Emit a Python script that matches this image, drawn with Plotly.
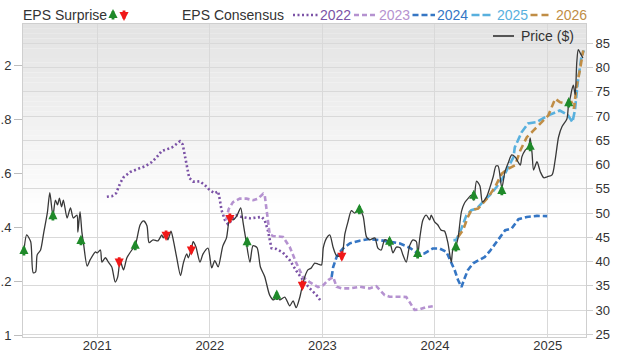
import plotly.graph_objects as go

# ---------------- data ----------------
price_dates = [
    "2020-05-08", "2020-05-17", "2020-05-30", "2020-06-07", "2020-06-15", "2020-06-20",
    "2020-07-01", "2020-07-11", "2020-07-23", "2020-07-31", "2020-08-10", "2020-08-18",
    "2020-08-25", "2020-08-31", "2020-09-07", "2020-09-13", "2020-09-25", "2020-10-06",
    "2020-10-15", "2020-10-27", "2020-10-30", "2020-11-06", "2020-11-12", "2020-11-17",
    "2020-11-29", "2020-12-09", "2020-12-26", "2021-01-01", "2021-01-11", "2021-01-16",
    "2021-01-27", "2021-02-06", "2021-02-17", "2021-02-28", "2021-03-08", "2021-03-16",
    "2021-03-27", "2021-04-07", "2021-04-23", "2021-05-04", "2021-05-20", "2021-05-31",
    "2021-06-11", "2021-06-18", "2021-07-01", "2021-07-17", "2021-07-29", "2021-08-03",
    "2021-08-12", "2021-08-18", "2021-08-28", "2021-09-05", "2021-09-15", "2021-09-28",
    "2021-10-07", "2021-10-18", "2021-10-23", "2021-11-02", "2021-11-08", "2021-11-17",
    "2021-11-30", "2021-12-10", "2021-12-26", "2022-01-07", "2022-01-17", "2022-01-28",
    "2022-02-12", "2022-02-24", "2022-03-07", "2022-03-17", "2022-03-29", "2022-04-11",
    "2022-04-19", "2022-04-28", "2022-05-11", "2022-05-21", "2022-06-03", "2022-06-14",
    "2022-06-28", "2022-07-14", "2022-07-27", "2022-08-06", "2022-08-16", "2022-09-01",
    "2022-09-17", "2022-09-28", "2022-10-08", "2022-10-20", "2022-10-28", "2022-11-05",
    "2022-11-15", "2022-11-26", "2022-12-07", "2022-12-18", "2022-12-29", "2023-01-04",
    "2023-01-15", "2023-01-25", "2023-02-05", "2023-02-16", "2023-03-04", "2023-03-15",
    "2023-03-25", "2023-04-05", "2023-04-16", "2023-04-30", "2023-05-13", "2023-05-24",
    "2023-06-03", "2023-06-20", "2023-06-30", "2023-07-11", "2023-07-22", "2023-08-07",
    "2023-08-18", "2023-08-29", "2023-09-11", "2023-09-19", "2023-09-30", "2023-10-11",
    "2023-10-22", "2023-11-02", "2023-11-06", "2023-11-13", "2023-11-23", "2023-12-04",
    "2023-12-15", "2023-12-20", "2023-12-31", "2024-01-10", "2024-01-21", "2024-02-01",
    "2024-02-12", "2024-02-23", "2024-02-28", "2024-03-10", "2024-03-16", "2024-03-27",
    "2024-04-06", "2024-04-17", "2024-04-28", "2024-05-06", "2024-05-15", "2024-05-26",
    "2024-06-03", "2024-06-17", "2024-06-27", "2024-07-08", "2024-07-17", "2024-07-24",
    "2024-08-05", "2024-08-15", "2024-08-26", "2024-09-06", "2024-09-17", "2024-10-04",
    "2024-10-09", "2024-10-20", "2024-10-31", "2024-11-05", "2024-11-11", "2024-11-16",
    "2024-11-27", "2024-12-08", "2024-12-19", "2024-12-30", "2025-01-15", "2025-01-25",
    "2025-02-05", "2025-02-16", "2025-03-04", "2025-03-09", "2025-03-15", "2025-03-20",
    "2025-03-25", "2025-03-31", "2025-04-05", "2025-04-10", "2025-04-18", "2025-04-25",
]
price_values = [
    42.2, 45.5, 44.1, 37.7, 37.9, 41.4,
    42.4, 45.9, 50.1, 54.2, 49.4, 52.7,
    51.7, 53.1, 51.3, 52.7, 49.0, 51.1,
    49.0, 49.6, 46.1, 50.3, 46.1, 43.9,
    39.1, 40.4, 42.0, 41.8, 42.4, 39.9,
    40.8, 39.9, 38.9, 35.8, 36.8, 40.2,
    38.3, 40.8, 42.4, 43.3, 47.6, 48.4,
    47.4, 43.9, 44.5, 44.3, 45.5, 44.9,
    45.7, 44.5, 46.3, 44.3, 41.0, 37.1,
    39.7, 41.6, 40.8, 42.6, 44.1, 43.0,
    39.9, 41.6, 42.8, 38.7, 40.2, 38.9,
    43.2, 44.9, 49.0, 48.6, 49.4, 51.1,
    48.0, 44.5, 39.9, 43.3, 42.9, 38.9,
    36.9, 33.1, 32.1, 33.0, 32.1, 32.7,
    30.9, 31.9, 30.5, 32.7, 35.0, 36.9,
    38.3, 38.7, 39.7, 39.5, 39.3, 42.9,
    44.9, 45.5, 42.9, 41.2, 41.2, 45.7,
    48.2, 50.5, 50.0, 50.9, 49.4, 45.1,
    44.5, 44.9, 42.8, 42.4, 44.5, 44.1,
    41.8, 43.0, 42.8, 41.4, 39.9, 43.3,
    44.5, 44.1, 41.2, 44.9, 48.6, 49.6,
    48.6, 49.6, 48.2, 47.6, 46.5, 46.3,
    43.9, 39.9, 42.4, 43.5, 44.9, 50.3,
    52.1, 53.0, 53.7, 52.7, 56.6, 55.6,
    52.3, 53.4, 55.2, 57.5, 59.7, 59.7,
    55.2, 58.5, 60.4, 62.0, 61.6, 59.9,
    61.6, 63.0, 63.7, 65.5, 62.4, 58.9,
    60.6, 58.5, 57.3, 57.5, 57.9, 61.0,
    65.7, 67.8, 69.4, 72.1, 73.8, 75.4,
    76.4, 74.4, 81.0, 83.7, 82.8, 82.0,
]

eps2022_dates = [
    "2021-02-01", "2021-02-17", "2021-03-03", "2021-03-16", "2021-03-27", "2021-04-18",
    "2021-05-14", "2021-06-05", "2021-06-27", "2021-07-13", "2021-07-29", "2021-08-14",
    "2021-08-30", "2021-09-10", "2021-09-26", "2021-10-05", "2021-10-15", "2021-10-26",
    "2021-11-08", "2021-11-30", "2021-12-16", "2022-01-01", "2022-01-17", "2022-01-28",
    "2022-02-02", "2022-02-08", "2022-02-19", "2022-03-01", "2022-03-17", "2022-03-29",
    "2022-04-14", "2022-05-11", "2022-06-18", "2022-06-28", "2022-07-08", "2022-07-20",
    "2022-08-05", "2022-08-26", "2022-09-17", "2022-10-09", "2022-10-30", "2022-11-21",
    "2022-12-13", "2022-12-27",
]
eps2022_values = [
    1.513, 1.515, 1.526, 1.563, 1.585, 1.605,
    1.617, 1.626, 1.642, 1.660, 1.683, 1.688,
    1.695, 1.704, 1.719, 1.707, 1.648, 1.583,
    1.569, 1.570, 1.556, 1.537, 1.526, 1.533,
    1.504, 1.463, 1.426, 1.411, 1.430, 1.444,
    1.438, 1.433, 1.438, 1.426, 1.389, 1.322,
    1.319, 1.306, 1.278, 1.237, 1.204, 1.173,
    1.148, 1.126,
]

eps2023_dates = [
    "2022-02-23", "2022-03-03", "2022-03-17", "2022-04-08", "2022-04-30", "2022-05-21",
    "2022-06-06", "2022-06-23", "2022-06-28", "2022-07-04", "2022-07-14", "2022-07-25",
    "2022-08-26", "2022-09-17", "2022-10-09", "2022-10-30", "2022-11-21", "2022-12-18",
    "2023-01-04", "2023-01-20", "2023-02-05", "2023-02-16", "2023-03-04", "2023-03-31",
    "2023-05-02", "2023-06-03", "2023-06-25", "2023-07-22", "2023-08-07", "2023-09-03",
    "2023-09-30", "2023-10-11", "2023-10-27", "2023-11-12", "2023-12-03", "2023-12-25",
]
eps2023_values = [
    1.426, 1.467, 1.493, 1.506, 1.506, 1.500,
    1.506, 1.524, 1.519, 1.456, 1.374, 1.367,
    1.364, 1.327, 1.266, 1.215, 1.196, 1.178,
    1.185, 1.204, 1.215, 1.179, 1.173, 1.173,
    1.179, 1.173, 1.181, 1.148, 1.142, 1.142,
    1.141, 1.122, 1.093, 1.095, 1.103, 1.107,
]

eps2024_dates = [
    "2023-01-31", "2023-02-05", "2023-02-16", "2023-02-26", "2023-03-09", "2023-03-31",
    "2023-05-02", "2023-06-03", "2023-07-06", "2023-08-07", "2023-09-08", "2023-10-11",
    "2023-11-06", "2023-11-28", "2023-12-25", "2024-01-16", "2024-02-07", "2024-02-17",
    "2024-03-05", "2024-03-16", "2024-03-27", "2024-04-06", "2024-04-17", "2024-05-04",
    "2024-05-26", "2024-06-11", "2024-06-27", "2024-07-19", "2024-08-16", "2024-09-06",
    "2024-09-28", "2024-10-25", "2024-11-27", "2024-12-30",
]
eps2024_values = [
    1.215, 1.252, 1.289, 1.307, 1.321, 1.340,
    1.350, 1.356, 1.352, 1.346, 1.340, 1.324,
    1.303, 1.303, 1.321, 1.321, 1.309, 1.284,
    1.241, 1.204, 1.178, 1.210, 1.241, 1.266,
    1.281, 1.290, 1.311, 1.346, 1.389, 1.395,
    1.430, 1.438, 1.442, 1.441,
]

eps2025_dates = [
    "2024-03-01", "2024-03-10", "2024-03-27", "2024-04-12", "2024-04-28", "2024-05-15",
    "2024-06-05", "2024-06-27", "2024-07-19", "2024-08-10", "2024-08-26", "2024-09-12",
    "2024-09-16", "2024-10-08", "2024-10-29", "2024-11-26", "2025-01-03", "2025-02-09",
    "2025-03-08", "2025-03-22", "2025-03-30", "2025-04-09", "2025-04-20", "2025-04-28",
]
eps2025_values = [
    1.352, 1.352, 1.395, 1.444, 1.463, 1.469,
    1.494, 1.519, 1.549, 1.586, 1.623, 1.660,
    1.696, 1.752, 1.785, 1.790, 1.815, 1.833,
    1.815, 1.790, 1.833, 1.944, 2.031, 2.056,
]

eps2026_dates = [
    "2024-03-16", "2024-04-01", "2024-04-17", "2024-04-28", "2024-05-20", "2024-06-05",
    "2024-06-22", "2024-07-14", "2024-08-05", "2024-08-26", "2024-09-17", "2024-10-04",
    "2024-10-25", "2024-11-16", "2024-12-08", "2025-01-03", "2025-01-25", "2025-02-09",
    "2025-03-03", "2025-03-19", "2025-03-27", "2025-04-04", "2025-04-15", "2025-04-26",
]
eps2026_values = [
    1.364, 1.389, 1.438, 1.463, 1.469, 1.488,
    1.512, 1.549, 1.599, 1.617, 1.630, 1.685,
    1.734, 1.759, 1.784, 1.815, 1.877, 1.864,
    1.858, 1.864, 1.840, 1.920, 1.981, 2.056,
]

beat_dates = [
    "2020-05-08", "2020-08-10", "2020-11-09", "2021-05-04", "2022-05-02", "2022-08-06",
    "2023-05-01", "2023-08-07", "2023-11-06", "2024-03-09", "2024-05-06", "2024-08-05",
    "2024-11-05", "2025-03-10",
]
beat_prices = [
    42.2, 49.4, 44.3, 43.3, 44.0, 33.0,
    50.7, 44.1, 41.6, 43.0, 53.6, 54.6,
    63.7, 72.7,
]
miss_dates = ["2021-03-13", "2021-08-12", "2021-11-02", "2022-03-07", "2022-10-28", "2023-03-05"]
miss_prices = [40.0, 45.5, 42.5, 49.0, 35.2, 41.2]

year_ticks = ["2021-01-01", "2022-01-01", "2023-01-01", "2024-01-01", "2025-01-01"]
year_labels = ["2021", "2022", "2023", "2024", "2025"]
eps_ticks = [1, 1.2, 1.4, 1.6, 1.8, 2]
eps_tick_labels = ["1", ".2", ".4", ".6", ".8", "2"]   # as shown (leading digit cut at the edge)
price_ticks = [25, 30, 35, 40, 45, 50, 55, 60, 65, 70, 75, 80, 85]

series_names = ["2022", "2023", "2024", "2025", "2026"]

# ---------------- style ----------------
FONT = "Liberation Sans, Arial, sans-serif"
TXT = "#333333"
GREEN = "#1f8a2a"
RED = "#f01818"
C = {"2022": "#7b52a6", "2023": "#b592d0", "2024": "#3576c4", "2025": "#58b0de", "2026": "#c08d45"}
DASH = {"2022": "2px,2.5px", "2023": "5px,3px", "2024": "6px,3px", "2025": "8px,3px", "2026": "7px,4px"}

W, H = 620, 357
ML, MR, MT, MB = 23, 34, 24, 20
PW, PH = W - ML - MR, H - MT - MB


def px_x(px):
    return (px - ML) / PW


def px_y(py):
    return (H - MB - py) / PH


ARROW = dict(showarrow=True, arrowhead=2, arrowsize=0.65, arrowwidth=2.8, standoff=0, text="")

fig = go.Figure()

eps_series = {
    "2022": (eps2022_dates, eps2022_values),
    "2023": (eps2023_dates, eps2023_values),
    "2024": (eps2024_dates, eps2024_values),
    "2025": (eps2025_dates, eps2025_values),
    "2026": (eps2026_dates, eps2026_values),
}
for name in series_names:
    d, v = eps_series[name]
    fig.add_trace(go.Scatter(
        x=d, y=v, mode="lines", yaxis="y", name=name, showlegend=False,
        line=dict(color=C[name], width=2.6, dash=DASH[name]), hoverinfo="skip",
    ))

fig.add_trace(go.Scatter(
    x=price_dates, y=price_values, mode="lines", yaxis="y2", name="Price ($)",
    showlegend=False, line=dict(color="#383838", width=1.3, shape="spline", smoothing=0.7),
    hoverinfo="skip",
))

annotations = []
for d, p in zip(beat_dates, beat_prices):
    annotations.append(dict(x=d, y=p, xref="x", yref="y2", arrowcolor=GREEN,
                            ax=0, ay=12, yshift=6, **ARROW))
for d, p in zip(miss_dates, miss_prices):
    annotations.append(dict(x=d, y=p, xref="x", yref="y2", arrowcolor=RED,
                            ax=0, ay=-12, yshift=-6, **ARROW))


def label(px, py, text, color=TXT):
    annotations.append(dict(x=px_x(px), y=px_y(py), xref="paper", yref="paper", text=text,
                            showarrow=False, xanchor="left", yanchor="middle",
                            font=dict(family=FONT, size=14, color=color)))


label(21, 15, "EPS Surprise")
annotations.append(dict(x=px_x(113), y=px_y(15), xref="paper", yref="paper",
                        arrowcolor=GREEN, ax=0, ay=12, yshift=6, **ARROW))
annotations.append(dict(x=px_x(124), y=px_y(15), xref="paper", yref="paper",
                        arrowcolor=RED, ax=0, ay=-12, yshift=-6, **ARROW))
label(180, 15, "EPS Consensus")

shapes = []
legend_x = {"2022": (293, 318, 318), "2023": (354, 375, 376.5), "2024": (412.5, 435, 435),
            "2025": (471.5, 492.5, 494.5), "2026": (530.5, 551.5, 553.5)}
for name in series_names:
    x0, x1, tx = legend_x[name]
    shapes.append(dict(type="line", xref="paper", yref="paper", x0=px_x(x0), x1=px_x(x1),
                       y0=px_y(15), y1=px_y(15), line=dict(color=C[name], width=2.6, dash=DASH[name])))
    label(tx, 15, name, C[name])

shapes.append(dict(type="line", xref="paper", yref="paper", x0=px_x(493), x1=px_x(514),
                   y0=px_y(36), y1=px_y(36), line=dict(color="#555555", width=2)))
label(518.5, 36, "Price ($)")

# gradient plot background
N = 40
top, bottom = 1.0, 0.38
for i in range(N):
    t = i / (N - 1)
    v = int(round(227 + (255 - 227) * t))
    y1 = top - (top - bottom) * i / N
    y0 = top - (top - bottom) * (i + 1) / N
    shapes.append(dict(type="rect", xref="paper", yref="paper", x0=0, x1=1, y0=y0, y1=y1,
                       fillcolor=f"rgb({v},{v},{v})", line=dict(width=0), layer="below"))

fig.update_layout(
    width=W, height=H, template="none",
    margin=dict(l=ML, r=MR, t=MT, b=MB, pad=0),
    paper_bgcolor="#ffffff", plot_bgcolor="rgba(0,0,0,0)",
    font=dict(family=FONT, size=13, color=TXT),
    showlegend=False,
    xaxis=dict(type="date", range=["2020-05-05", "2025-05-05"], tickvals=year_ticks,
               ticktext=year_labels, showgrid=True, gridcolor="#d9d9d9", gridwidth=1,
               ticks="", showline=True, linecolor="#cfcfcf", linewidth=1, mirror=True,
               zeroline=False, automargin=False, ticklabelstandoff=-4,
               tickfont=dict(size=13, color=TXT)),
    yaxis=dict(range=[0.9926, 2.154], tickvals=eps_ticks, ticktext=eps_tick_labels,
               showgrid=False, ticks="outside",
               ticklen=8, tickcolor="#bdbdbd", showline=True, linecolor="#cfcfcf",
               linewidth=1, mirror=True, zeroline=False, automargin=False,
               tickfont=dict(size=13, color=TXT)),
    yaxis2=dict(overlaying="y", side="right", range=[24.46, 89.0], tickvals=price_ticks,
                showgrid=True, gridcolor="#d9d9d9", gridwidth=1, ticks="outside", ticklen=6,
                tickcolor="#cfcfcf", showline=False, zeroline=False, automargin=False,
                tickfont=dict(size=13, color=TXT)),
    annotations=annotations,
    shapes=shapes,
)

fig.write_html("out.html", config={"displayModeBar": False},
               post_script="document.body.style.margin='0';document.body.style.overflow='hidden';")
